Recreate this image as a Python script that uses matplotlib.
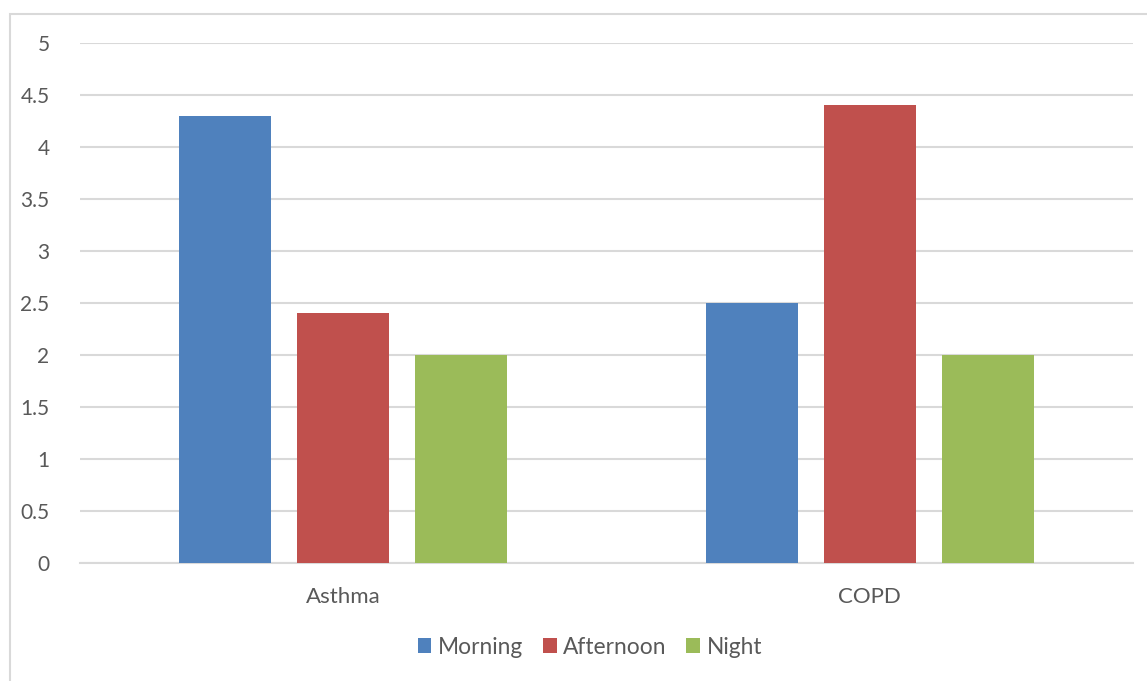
import matplotlib.pyplot as plt
import numpy as np
from matplotlib.patches import Rectangle

# chart data
categories = ['Asthma', 'COPD']
series_names = ['Morning', 'Afternoon', 'Night']
morning = [4.3, 2.5]
afternoon = [2.4, 4.4]
night = [2.0, 2.0]
y_ticks = [0, 0.5, 1, 1.5, 2, 2.5, 3, 3.5, 4, 4.5, 5]
y_tick_labels = ['0', '0.5', '1', '1.5', '2', '2.5', '3', '3.5', '4', '4.5', '5']

colors = ['#4F81BD', '#C0504D', '#9BBB59']
text_color = '#595959'
grid_color = '#D9D9D9'

plt.rcParams['font.family'] = ['Lato', 'DejaVu Sans']

fig = plt.figure(figsize=(11.47, 6.81), dpi=100)
ax = fig.add_axes([80 / 1147, 1 - 563 / 681, (1133 - 80) / 1147, (563 - 43) / 681])

# outer chart border
fig.patches.append(Rectangle((10 / 1147, -0.1), 1.2, 1 - 14 / 681 + 0.1,
                             transform=fig.transFigure, fill=False,
                             edgecolor=grid_color, linewidth=1.5))

x = np.arange(len(categories))
step = 0.224
width = 0.175
for i, (name, vals) in enumerate(zip(series_names, [morning, afternoon, night])):
    ax.bar(x + (i - 1) * step, vals, width, color=colors[i], label=name, zorder=3)

ax.set_xlim(-0.5, 1.5)
ax.set_ylim(0, 5)
ax.set_yticks(y_ticks)
ax.set_yticklabels(y_tick_labels)
ax.set_xticks(x)
ax.set_xticklabels(categories)
ax.yaxis.grid(True, color=grid_color, linewidth=1.5, zorder=0)
ax.tick_params(axis='both', length=0, colors=text_color)
ax.tick_params(axis='y', pad=22, labelsize=15)
ax.tick_params(axis='x', pad=17, labelsize=16)
for s in ['top', 'right', 'left']:
    ax.spines[s].set_visible(False)
ax.spines['bottom'].set_color(grid_color)
ax.spines['bottom'].set_linewidth(1.5)

leg = fig.legend(loc='center', bbox_to_anchor=(590 / 1147, 1 - 647 / 681), ncol=3,
                 frameon=False, fontsize=16.4, handlelength=0.6, handleheight=0.6,
                 handletextpad=0.3, columnspacing=0.85)
for t in leg.get_texts():
    t.set_color(text_color)

fig.savefig('out.png', dpi=100)
